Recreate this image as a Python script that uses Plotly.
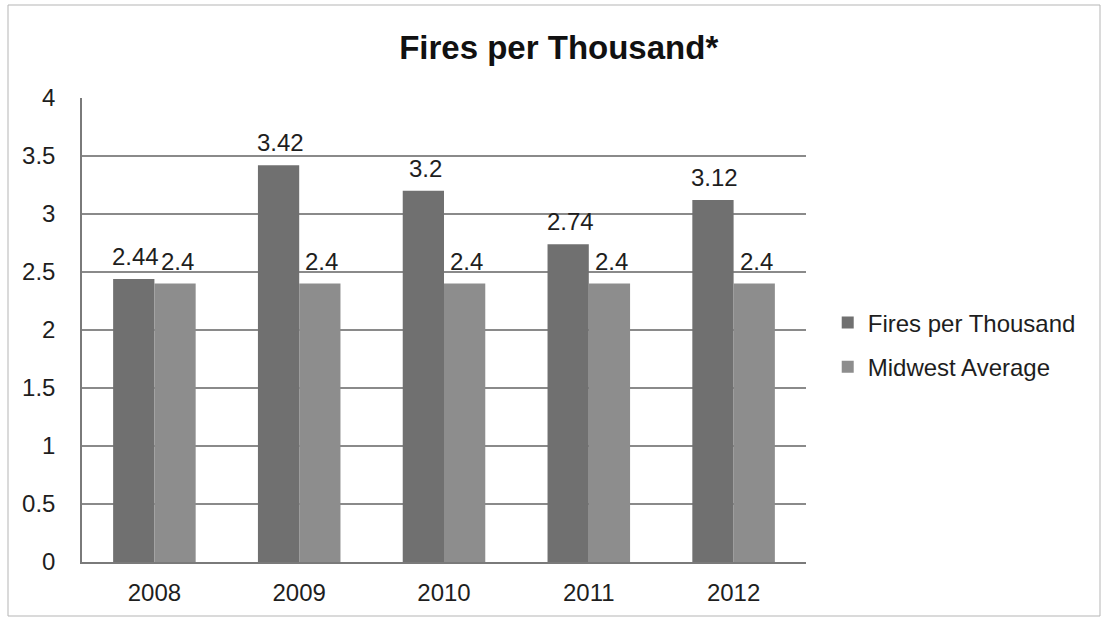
import plotly.graph_objects as go

years = ["2008", "2009", "2010", "2011", "2012"]
fires = [2.44, 3.42, 3.2, 2.74, 3.12]
midwest = [2.4, 2.4, 2.4, 2.4, 2.4]
y_ticks = [0, 0.5, 1, 1.5, 2, 2.5, 3, 3.5, 4]
y_tick_labels = ["0", "0.5", "1", "1.5", "2", "2.5", "3", "3.5", "4"]

font_family = "Liberation Sans, Arial, sans-serif"
BARGAP = 0.43
PLOT_W = 724
group_px = PLOT_W / len(years) * (1 - BARGAP)
half = group_px / 4  # center offset of each bar within group

fig = go.Figure()
fig.add_trace(go.Bar(
    x=years, y=fires, name="Fires per Thousand", legendgroup="a",
    marker=dict(color="#707070", line=dict(width=0)),
))
fig.add_trace(go.Bar(
    x=years, y=midwest, name="Midwest Average", legendgroup="b",
    marker=dict(color="#8d8d8d", line=dict(width=0)),
))

for series, shift in ((fires, -half), (midwest, half)):
    for i, v in enumerate(series):
        fig.add_annotation(
            x=i, y=v, xref="x", yref="y", text=f"{v:g}", showarrow=False,
            xanchor="center", yanchor="bottom", xshift=shift + 2, yshift=7,
            font=dict(size=24, color="#1e1e1e", family=font_family),
        )

fig.update_layout(
    width=1102, height=618,
    barmode="group", bargap=BARGAP, bargroupgap=0,
    paper_bgcolor="white", plot_bgcolor="white",
    margin=dict(l=82, r=1102 - 82 - PLOT_W, t=98, b=56),
    font=dict(family=font_family, size=24, color="#1e1e1e"),
    title=dict(text="<b>Fires per Thousand*</b>", x=0.507, xanchor="center",
               y=0.924, yanchor="middle",
               font=dict(size=33, color="#111111", family=font_family)),
    legend=dict(x=1.03, xanchor="left", y=0.468, yanchor="middle",
                font=dict(size=24, color="#1e1e1e"), itemwidth=30,
                tracegroupgap=10, bgcolor="rgba(0,0,0,0)"),
    showlegend=True,
)
fig.update_xaxes(
    type="category", range=[-0.5, len(years) - 0.5],
    showline=True, linecolor="#7a7a7a", linewidth=1.5,
    ticks="", tickfont=dict(size=24), showgrid=False, ticklabelstandoff=8,
)
fig.update_yaxes(
    range=[0, 4], tickvals=y_ticks, ticktext=y_tick_labels,
    showline=True, linecolor="#7a7a7a", linewidth=1.5,
    showgrid=True, gridcolor="#8a8a8a", gridwidth=1.5,
    ticks="", ticklabelstandoff=20,
    tickfont=dict(size=24), zeroline=False,
)
fig.add_shape(type="rect", xref="paper", yref="paper",
              x0=(8 - 82) / PLOT_W, x1=(1100 - 82) / PLOT_W,
              y0=(562 - 616) / 464, y1=(562 - 5) / 464,
              line=dict(color="#b5b5b5", width=1))

fig.write_html("out.html")
